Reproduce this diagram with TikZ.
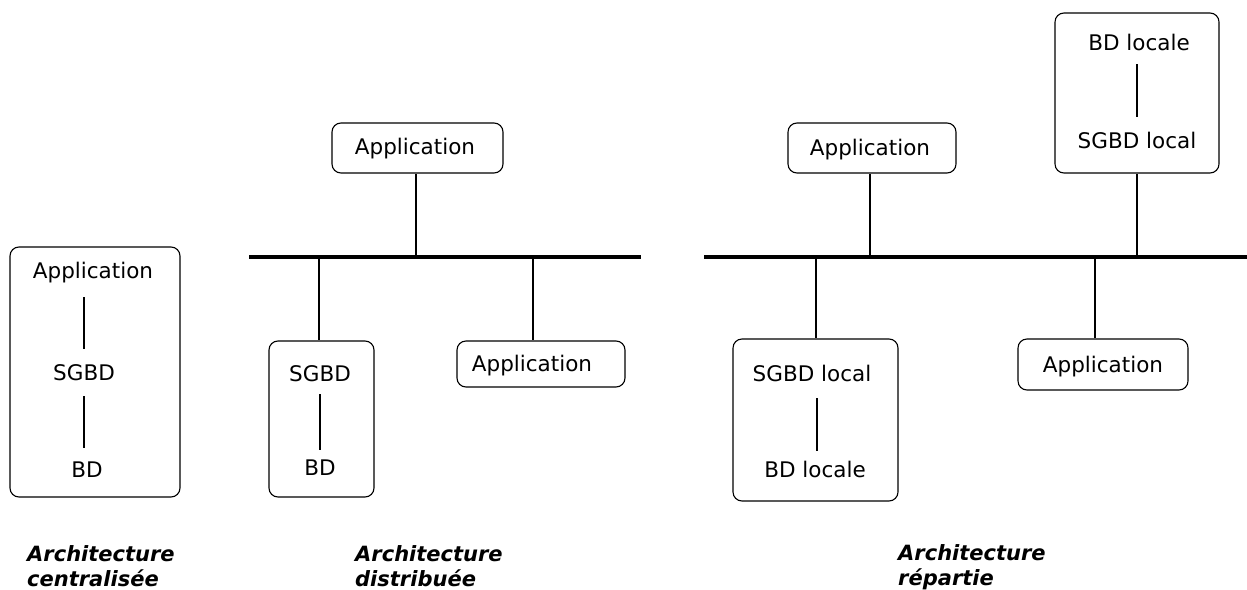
\documentclass[tikz,border=0pt]{standalone}
\usepackage{fontspec}
\setmainfont{DejaVu Sans}
\begin{document}
\begin{tikzpicture}[x=1pt,y=-1pt,
  box/.style={draw, rounded corners=9pt, line width=1.1pt, inner sep=0pt},
  txt/.style={font=\fontsize{21.5}{24}\selectfont, inner sep=0pt, anchor=base, text height=16pt, text depth=5pt},
  lab/.style={font=\fontsize{21}{24}\selectfont\bfseries\itshape, inner sep=0pt, anchor=base west},
  link/.style={line width=1.1pt},
  bus/.style={line width=4pt}]
\useasboundingbox (0,0) rectangle (1247,589);

% ---------- centralised ----------
\node[box, minimum width=170pt, minimum height=250pt] (boxC) at (95,372) {};
\node[txt] (cApp) at (93,278) {Application};
\node[txt] (cSGBD) at (84,380) {SGBD};
\node[txt] (cBD) at (87,477) {BD};
\draw[link, shorten <=15pt, shorten >=14pt] (cSGBD.north) -- (cSGBD.north |- cApp.south);
\draw[link, shorten <=11pt, shorten >=13pt] (cSGBD.south) -- (cSGBD.south |- cBD.north);

% ---------- distributed ----------
\coordinate (b1L) at (249,257);
\coordinate (b1R) at (641,257);
\draw[bus] (b1L) -- (b1R);

\node[box, minimum width=171pt, minimum height=50pt] (boxD1) at (417.5,148) {};
\node[txt] (dApp1) at (415,154) {Application};
\coordinate (tD1) at (416,257);
\draw[link] (tD1) -- (tD1 |- boxD1.south);

\node[box, minimum width=105pt, minimum height=156pt] (boxD2) at (321.5,419) {};
\node[txt] (dSGBD) at (320,381) {SGBD};
\node[txt] (dBD) at (320,475) {BD};
\draw[link, shorten <=8pt, shorten >=9pt] (dSGBD.south) -- (dSGBD.south |- dBD.north);
\coordinate (tD2) at (319,257);
\draw[link] (tD2) -- (tD2 |- boxD2.north);

\node[box, minimum width=168pt, minimum height=46pt] (boxD3) at (541,364) {};
\node[txt] (dApp2) at (532,371) {Application};
\coordinate (tD3) at (533,257);
\draw[link] (tD3) -- (tD3 |- boxD3.north);

% ---------- repartie ----------
\coordinate (b2L) at (704,257);
\coordinate (b2R) at (1247,257);
\draw[bus] (b2L) -- (b2R);

\node[box, minimum width=168pt, minimum height=50pt] (boxR1) at (872,148) {};
\node[txt] (rApp1) at (870,155) {Application};
\coordinate (tR1) at (870,257);
\draw[link] (tR1) -- (tR1 |- boxR1.south);

\node[box, minimum width=164pt, minimum height=160pt] (boxR2) at (1137,93) {};
\node[txt] (rBD1) at (1139,50) {BD locale};
\node[txt] (rSGBD1) at (1137,148) {SGBD local};
\draw[link, shorten <=15pt, shorten >=9pt] (rSGBD1.north) -- (rSGBD1.north |- rBD1.south);
\coordinate (tR2) at (1137,257);
\draw[link] (tR2) -- (tR2 |- boxR2.south);

\node[box, minimum width=165pt, minimum height=162pt] (boxR3) at (815.5,420) {};
\node[txt] (rSGBD2) at (812,381) {SGBD local};
\node[txt] (rBD2) at (815,477) {BD locale};
\coordinate (tR3l) at (817,386);
\draw[link, shorten <=12pt, shorten >=10pt] (rSGBD2.south -| tR3l) -- (rBD2.north -| tR3l);
\coordinate (tR3) at (816,257);
\draw[link] (tR3) -- (tR3 |- boxR3.north);

\node[box, minimum width=170pt, minimum height=51pt] (boxR4) at (1103,364.5) {};
\node[txt] (rApp2) at (1103,372) {Application};
\coordinate (tR4) at (1095,257);
\draw[link] (tR4) -- (tR4 |- boxR4.north);

% ---------- labels ----------
\node[lab] (labC1) at (27,561) {Architecture};
\node[lab] (labC2) at (27,586) {centralisée};
\node[lab] (labD1) at (355,561) {Architecture};
\node[lab] (labD2) at (355,586) {distribuée};
\node[lab] (labR1) at (898,560) {Architecture};
\node[lab] (labR2) at (898,585) {répartie};
\end{tikzpicture}
\end{document}
